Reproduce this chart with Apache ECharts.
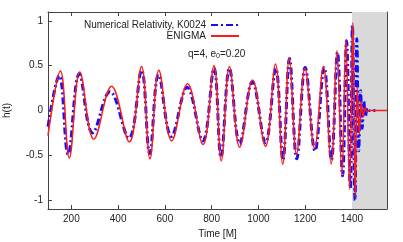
<!DOCTYPE html>
<html>
<head>
<meta charset="utf-8">
<script src="https://cdn.jsdelivr.net/npm/echarts@6/dist/echarts.min.js"></script>
<style>
html,body{margin:0;padding:0;background:#fff;}
#c{width:403px;height:242px;}
</style>
</head>
<body>
<div id="c"></div>
<script>
// ENIGMA (red) extrema: [time, h]
var enigmaT = [100,153,191,236,296,372,448,500,536,574,629,697,763,810,841,876,920,975,1030,1073,1104,1132,1163,1199,1240,1278,1311,1336,1357,1374,1390,1404,1414,1423,1432,1440,1448,1456,1465,1480,1550];
var enigmaH = [-0.28,0.44,-0.53,0.43,-0.32,0.27,-0.35,0.49,-0.54,0.45,-0.34,0.30,-0.38,0.50,-0.56,0.49,-0.41,0.34,-0.40,0.52,-0.60,0.59,-0.49,0.47,-0.42,0.49,-0.60,0.67,-0.73,0.79,-0.88,0.98,-0.97,0.26,-0.26,0.10,-0.07,0.03,-0.01,0,0];
// Numerical Relativity K0024 (blue)
var nrT = [100,148,186,234,291,365,446,500,535,573,628,695,762,810,840,876,920,974,1030,1074,1105,1133,1164,1200,1242,1281,1312,1338,1360,1377,1393,1402,1413,1421,1429,1437,1444,1451,1458,1466,1475,1500];
var nrH = [-0.18,0.39,-0.49,0.41,-0.25,0.21,-0.31,0.45,-0.48,0.40,-0.29,0.26,-0.34,0.47,-0.52,0.47,-0.37,0.32,-0.36,0.47,-0.55,0.58,-0.54,0.48,-0.45,0.48,-0.55,0.65,-0.73,0.78,-0.87,0.95,-1.00,0.80,-0.45,0.22,-0.20,0.10,-0.06,0.03,0,0];
var xTicks = [200,400,600,800,1000,1200,1400];
var yTicks = [-1,-0.5,0,0.5,1];
var shadeRange = [1400,1550];

function pairs(t,h){return t.map(function(v,i){return [v,h[i]];});}

var axisColor = '#444';
var chart = echarts.init(document.getElementById('c'), null, {renderer:'canvas'});
var font = 'Liberation Sans, Arial, sans-serif';
chart.setOption({
  animation:false,
  grid:{left:48,right:16,top:12,bottom:33,outerBoundsMode:'none',containLabel:false},
  legend:{
    orient:'vertical', right:158, top:15, align:'right',
    itemWidth:28, itemHeight:8, itemGap:1,
    itemStyle:{opacity:0},
    textStyle:{fontSize:10, lineHeight:10, color:'#222', fontFamily:font, padding:[0,0,0,0]},
    data:['Numerical Relativity, K0024','ENIGMA']
  },
  graphic:[{
    type:'text', left:188, top:49,
    style:{
      rich:{n:{fontSize:10,fill:'#222',fontFamily:font}, s:{fontSize:7,fill:'#222',fontFamily:font,verticalAlign:'bottom',padding:[5,0,0,0]}},
      text:'{n|q=4, e}{s|0}{n|=0.20}'
    }
  }],
  xAxis:[{
    type:'value', min:100, max:1550,
    name:'Time [M]', nameLocation:'middle', nameGap:19,
    nameTextStyle:{fontSize:10,color:'#222',fontFamily:font},
    axisLine:{show:true,onZero:false,lineStyle:{color:axisColor,width:1}},
    axisTick:{show:true,inside:true,length:4,customValues:xTicks,lineStyle:{color:axisColor}},
    axisLabel:{customValues:xTicks,fontSize:10,color:'#222',fontFamily:font,margin:5,formatter:function(v){return String(v);}},
    splitLine:{show:false}
  },{
    type:'value', min:100, max:1550, position:'top',
    axisLine:{show:true,onZero:false,lineStyle:{color:axisColor,width:1}},
    axisTick:{show:true,inside:true,length:4,customValues:xTicks,lineStyle:{color:axisColor}},
    axisLabel:{show:false}, splitLine:{show:false}
  }],
  yAxis:[{
    type:'value', min:-1.1, max:1.1,
    name:'h(t)', nameLocation:'middle', nameGap:36, nameRotate:90,
    nameTextStyle:{fontSize:10,color:'#222',fontFamily:font},
    axisLine:{show:true,onZero:false,lineStyle:{color:axisColor,width:1}},
    axisTick:{show:true,inside:true,length:4,customValues:yTicks,lineStyle:{color:axisColor}},
    axisLabel:{customValues:yTicks,fontSize:10,color:'#222',fontFamily:font,margin:5},
    splitLine:{show:false}
  },{
    type:'value', min:-1.1, max:1.1, position:'right',
    axisLine:{show:true,onZero:false,lineStyle:{color:axisColor,width:1}},
    axisTick:{show:true,inside:true,length:4,customValues:yTicks,lineStyle:{color:axisColor}},
    axisLabel:{show:false}, splitLine:{show:false}
  }],
  series:[{
    name:'Numerical Relativity, K0024', type:'line', smooth:0.4,
    symbol:'none', data:pairs(nrT,nrH), z:2,
    lineStyle:{color:'#1010ff',width:3,type:[7,3,2,3]},
    itemStyle:{color:'#1010ff'},
    markArea:{silent:true, itemStyle:{color:'#d9d9d9'}, data:[[{xAxis:shadeRange[0]},{xAxis:shadeRange[1]}]]}
  },{
    name:'ENIGMA', type:'line', smooth:0.4,
    symbol:'none', data:pairs(enigmaT,enigmaH), z:3,
    lineStyle:{color:'#ff1a1a',width:1.5},
    itemStyle:{color:'#ff1a1a'}
  }]
});
</script>
</body>
</html>
